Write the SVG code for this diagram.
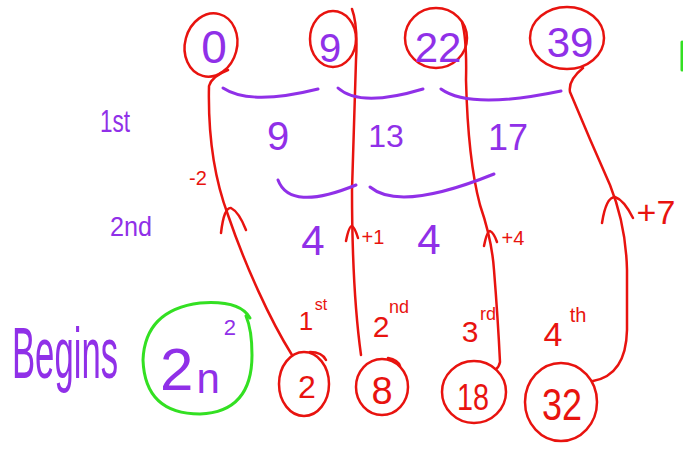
<svg xmlns="http://www.w3.org/2000/svg" width="683" height="450" viewBox="0 0 683 450">
<style>
.r{fill:none;stroke:#e8130f;stroke-width:2.5;stroke-linecap:round;stroke-linejoin:round}
.p{fill:none;stroke:#9030e8;stroke-width:3;stroke-linecap:round}
.g{fill:none;stroke:#33e022;stroke-width:3;stroke-linecap:round}
.tp{fill:#9030e8;font-family:"Liberation Sans",Arial,sans-serif;text-anchor:middle}
.tr{fill:#e8130f;font-family:"Liberation Sans",Arial,sans-serif;text-anchor:middle}
</style>
<rect width="683" height="450" fill="#fff"/>
<g id="connectors">
<path class="r" d="M228,70 Q212,76 209,86 C208,130 213,175 228,215 C245,265 270,320 292,355"/>
<path class="r" d="M221,233 Q224,207 231,208 Q239,212 246,230"/>
<path class="r" d="M352,9 Q358,25 356,60 L352,190 Q352,290 361,355"/>
<path class="r" d="M346,241 Q349,226 352,226 Q355,228 358,238"/>
<path class="r" d="M462,22 Q467,40 466,80 Q468,160 480,205 Q492,240 494,270 Q498,320 500,362 Q499,367 496,369"/>
<path class="r" d="M484,246 Q487,231 490,231 Q494,233 497,242"/>
<path class="r" d="M583,68 Q568,80 570,92 Q590,140 610,185 Q626,225 627,270 L627,330 Q626,375 593,381"/>
<path class="r" d="M602,223 Q606,197 615,197 Q624,200 633,218"/>
<path class="p" d="M223,88 Q250,106 318,89"/>
<path class="p" d="M338,88 Q360,108 423,89"/>
<path class="p" d="M441,89 Q470,110 561,91"/>
<path class="p" d="M278,180 Q290,212 356,185"/>
<path class="p" d="M370,187 Q400,212 494,174"/>
</g>
<g id="n0"><ellipse class="r" cx="211" cy="45" rx="26" ry="32" transform="rotate(15 211 45)"/><text class="tp" x="214" y="63" font-size="46">0</text></g>
<g id="n9"><ellipse class="r" cx="333" cy="39" rx="23" ry="28"/><text class="tp" x="330" y="62" font-size="40">9</text></g>
<g id="n22"><ellipse class="r" cx="436" cy="38" rx="31" ry="30"/><text class="tp" x="438" y="62" font-size="42">22</text></g>
<g id="n39"><ellipse class="r" cx="567" cy="38" rx="37" ry="31"/><text class="tp" x="570" y="57" font-size="42">39</text></g>
<g id="d1"><text class="tp" x="278" y="150" font-size="40">9</text><text class="tp" x="386" y="147" font-size="32">13</text><text class="tp" x="508" y="150" font-size="36">17</text></g>
<g id="d2"><text class="tp" x="313" y="255" font-size="42">4</text><text class="tp" x="429" y="254" font-size="42">4</text></g>
<g id="labels">
<text class="tp" x="115" y="132" font-size="32" textLength="30" lengthAdjust="spacingAndGlyphs">1st</text>
<text class="tp" x="131" y="236" font-size="28" textLength="42" lengthAdjust="spacingAndGlyphs">2nd</text>
<text class="tp" x="65" y="378" font-size="72" textLength="106" lengthAdjust="spacingAndGlyphs">Begins</text>
<text class="tr" x="198" y="185" font-size="20">-2</text>
<text class="tr" x="373" y="244" font-size="20">+1</text>
<text class="tr" x="513" y="245" font-size="20">+4</text>
<text class="tr" x="656" y="224" font-size="34">+7</text>
</g>
<g id="formula"><path class="g" d="M250,318 Q240,300 200,303 Q145,310 143,360 Q145,414 200,414 Q252,412 252,355 Q252,330 246,316"/>
<text class="tp" x="198" y="390" font-size="60"><tspan>2</tspan><tspan font-size="42" dx="3" dy="3">n</tspan><tspan font-size="22" dx="4" dy="-58">2</tspan></text></g>
<g id="o1"><ellipse class="r" cx="304" cy="384" rx="25" ry="32"/><path class="r" d="M310,352 Q322,352 326,360"/><text class="tr" x="307" y="398" font-size="32">2</text><text class="tr" x="306" y="330" font-size="26">1</text><text class="tr" x="321" y="310" font-size="16">st</text></g>
<g id="o2"><ellipse class="r" cx="382" cy="387" rx="26" ry="28"/><path class="r" d="M388,358 Q398,360 400,366"/><text class="tr" x="382" y="404" font-size="38">8</text><text class="tr" x="381" y="337" font-size="30">2</text><text class="tr" x="399" y="313" font-size="18">nd</text></g>
<g id="o3"><ellipse class="r" cx="474" cy="392" rx="32" ry="31"/><text class="tr" x="473" y="410" font-size="36" textLength="32" lengthAdjust="spacingAndGlyphs">18</text><text class="tr" x="470" y="342" font-size="30">3</text><text class="tr" x="488" y="320" font-size="18">rd</text></g>
<g id="o4"><ellipse class="r" cx="561" cy="402" rx="36" ry="39"/><text class="tr" x="562" y="420" font-size="44" textLength="40" lengthAdjust="spacingAndGlyphs">32</text><text class="tr" x="553" y="346" font-size="34">4</text><text class="tr" x="578" y="322" font-size="20">th</text></g>
<path class="g" d="M682,42 L682,70"/>
</svg>
